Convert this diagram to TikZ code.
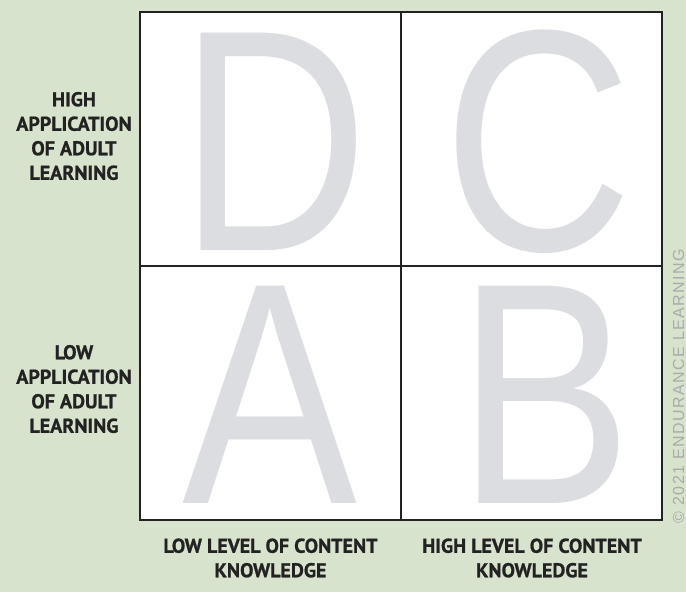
\documentclass[tikz,border=0pt]{standalone}
\usepackage{fontspec}
\setmainfont{Liberation Sans}
\newfontfamily\labelfont[BoldFeatures={FakeBold=0.8}]{PT Sans}
\newfontfamily\notefont[LetterSpace=9]{Liberation Sans}
\usetikzlibrary{positioning}
\definecolor{sage}{HTML}{D7E3CC}
\definecolor{bigletter}{HTML}{DCDDE1}
\definecolor{ink}{HTML}{222222}
\tikzset{
  axislabel/.style={font=\labelfont\bfseries\fontsize{20}{24.5}\selectfont, text=ink, align=center},
  quadletter/.style={font=\fontsize{316}{316}\selectfont, text=bigletter, inner sep=0pt,
    anchor=base, xscale=0.83, text height=218pt, text depth=0pt},
  grid/.style={draw=ink, line width=1.6pt}
}
\begin{document}
\begin{tikzpicture}[x=1pt,y=-1pt]
\fill[sage] (0,0) rectangle (686,592);
\useasboundingbox (0,0) rectangle (686,592);
\fill[white] (140,12) rectangle (662,520);
% quadrant letters
\node (d) [quadletter] at (274,250) {D};
\node (c) [quadletter] at (538,250) {C};
\node (a) [quadletter] at (269.5,503) {A};
\node (b) [quadletter] at (544.5,503) {B};
% grid
\draw[grid] (140,12) rectangle (662,520);
\draw[grid] (401,12) -- (401,520);
\draw[grid] (140,266) -- (662,266);
% axis labels
\node (high) [axislabel] at (74,136) {HIGH\\APPLICATION\\OF ADULT\\LEARNING};
\node (low) [axislabel] at (74,389) {LOW\\APPLICATION\\OF ADULT\\LEARNING};
\node (lowk) [axislabel] at (270.5,558) {LOW LEVEL OF CONTENT\\KNOWLEDGE};
\node (highk) [axislabel] at (532,558) {HIGH LEVEL OF CONTENT\\KNOWLEDGE};
\node (copy) [rotate=90, text=black!33, font=\notefont\fontsize{16}{16}\selectfont] at (678.5,386) {© 2021 ENDURANCE LEARNING};
\end{tikzpicture}
\end{document}
